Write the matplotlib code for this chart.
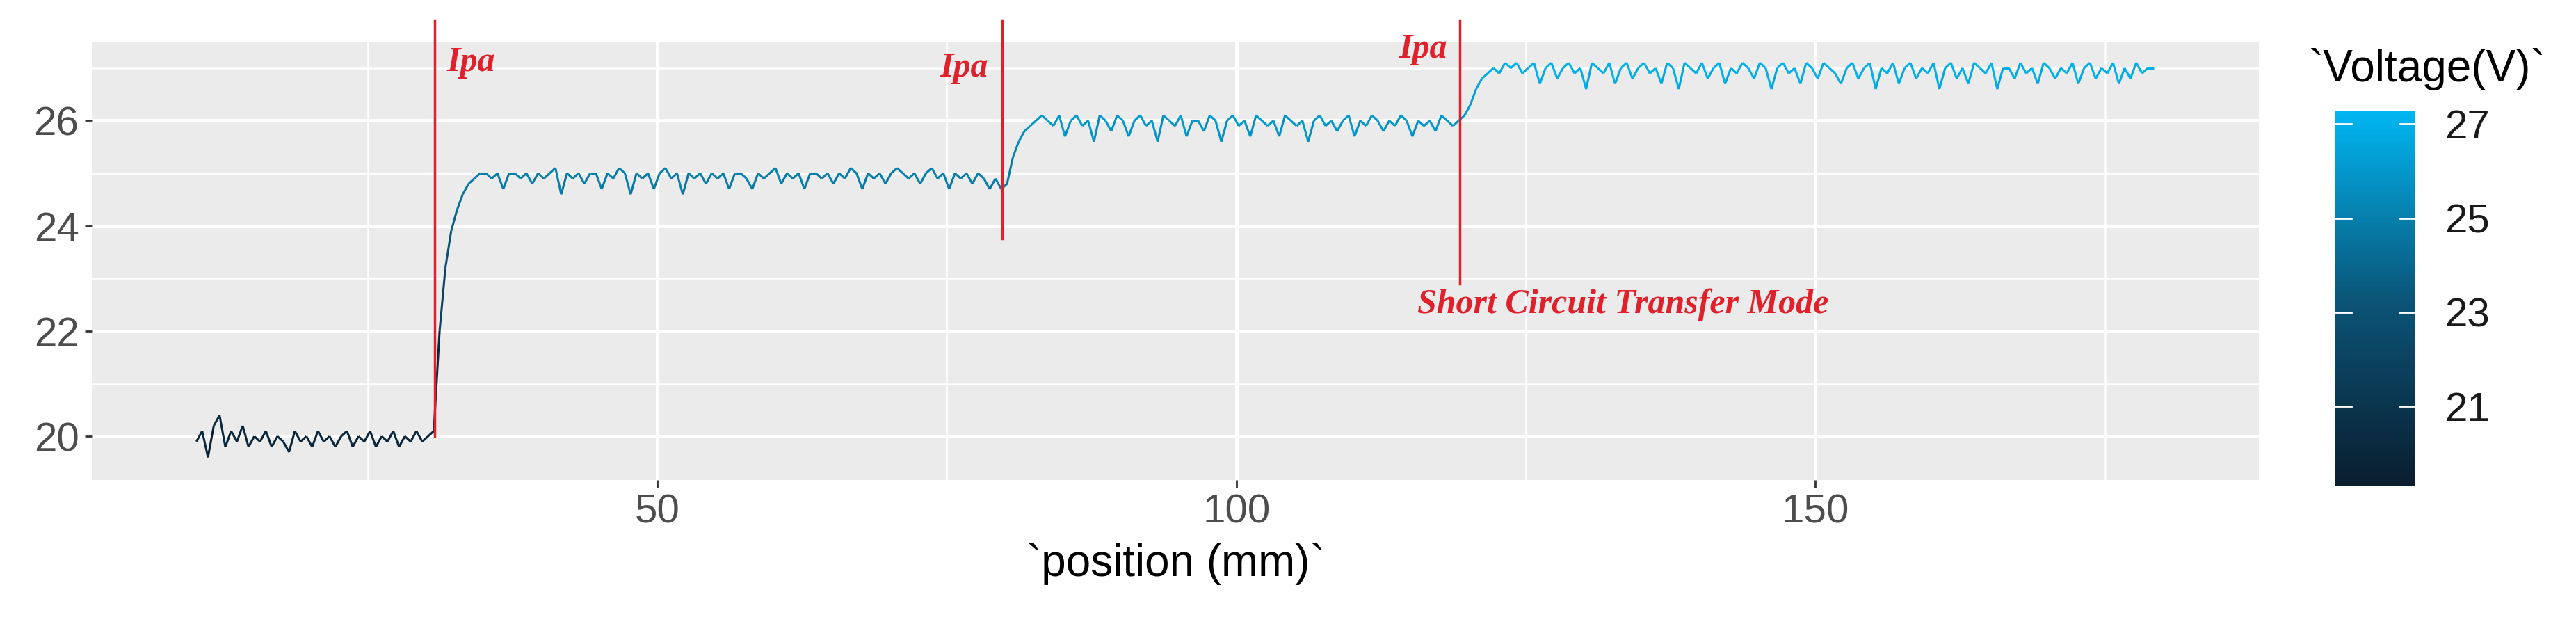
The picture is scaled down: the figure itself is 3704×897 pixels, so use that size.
import numpy as np
import matplotlib
matplotlib.use("Agg")
import matplotlib.pyplot as plt
from matplotlib.collections import LineCollection
from matplotlib.colors import LinearSegmentedColormap, Normalize
from matplotlib.ticker import MultipleLocator

plt.rcParams['font.family'] = ['Liberation Sans', 'DejaVu Sans']

seg_a = [19.9,20.1,19.6,20.2,20.4,19.8,20.1,19.9,20.2,19.8,20.0,19.9,20.1,19.8,20.0,19.9,19.7,20.1,19.9,20.0,
         19.8,20.1,19.9,20.0,19.8,20.0,20.1,19.8,20.0,19.9,20.1,19.8,20.0,19.9,20.1,19.8,20.0,19.9,20.1,19.9,20.0]
rise_1 = [20.1,22.0,23.2,23.9,24.3,24.6,24.8,24.9,25.0]
plat_1 = [25.0,24.9,25.0,24.7,25.0,25.0,24.9,25.0,24.8,25.0,
          24.9,25.0,25.1,24.6,25.0,24.9,25.0,24.8,25.0,25.0,
          24.7,25.0,24.9,25.1,25.0,24.6,25.0,24.9,25.0,24.7,
          25.0,25.1,24.9,25.0,24.6,25.0,24.9,25.0,24.8,25.0,
          24.9,25.0,24.7,25.0,25.0,24.9,24.7,25.0,24.9,25.0,
          25.1,24.8,25.0,24.9,25.0,24.7,25.0,25.0,24.9,25.0,
          24.8,25.0,24.9,25.1,25.0,24.7,25.0,24.9,25.0,24.8,
          25.0,25.1,25.0,24.9,25.0,24.8,25.0,25.1,24.9,25.0,
          24.7,25.0,24.9,25.0,24.8,25.0,24.9,24.7,24.9,24.7]
rise_2 = [24.8,25.3,25.6,25.8,25.9,26.0,26.1]
plat_2 = [26.0,25.9,26.1,25.7,26.0,26.1,25.9,26.0,25.6,26.1,
          26.0,25.8,26.1,26.0,25.7,26.0,26.1,25.9,26.0,25.6,
          26.1,26.0,25.9,26.1,25.7,26.0,26.0,25.8,26.1,26.0,
          25.6,26.0,26.1,25.9,26.0,25.7,26.1,26.0,25.9,26.0,
          25.7,26.1,26.0,25.9,26.0,25.6,26.0,26.1,25.9,26.0,
          25.8,26.0,26.1,25.7,26.0,25.9,26.1,26.0,25.8,26.0,
          25.9,26.1,26.0,25.7,26.0,25.9,26.0,25.8,26.1,26.0,
          25.9,26.0]
rise_3 = [26.1,26.3,26.6,26.8,26.9,27.0,26.9,27.1,27.0]
plat_3 = [27.1,26.9,27.0,27.1,26.7,27.0,27.1,26.8,27.0,27.1,
          26.9,27.0,26.6,27.1,27.0,26.9,27.1,26.7,27.0,27.1,
          26.8,27.0,27.1,26.9,27.0,26.7,27.1,27.0,26.6,27.1,
          27.0,26.9,27.1,26.8,27.0,27.1,26.7,27.0,26.9,27.1,
          27.0,26.8,27.1,27.0,26.6,27.0,27.1,26.9,27.0,26.7,
          27.1,27.0,26.8,27.1,27.0,26.9,26.7,27.0,27.1,26.8,
          27.0,27.1,26.6,27.0,26.9,27.1,26.7,27.0,27.1,26.8,
          27.0,26.9,27.1,26.6,27.0,27.1,26.8,27.0,26.7,27.1,
          27.0,26.9,27.1,26.6,27.0,27.0,26.8,27.1,26.9,27.0,
          26.7,27.1,27.0,26.8,27.0,26.9,27.1,26.7,27.0,27.1,
          26.8,27.0,26.9,27.1,26.7,27.0,26.8,27.1,26.9,27.0,27.0]
voltage = np.array(seg_a + rise_1 + plat_1 + rise_2 + plat_2 + rise_3 + plat_3)
position = np.linspace(10.2, 179.2, len(voltage))

vlines_x = [30.8, 79.8, 119.3]
vlines_ymin = [20.0, 23.76, 22.9]
labels = [("Ipa", 31.8, 27.1, "left"), ("Ipa", 78.6, 27.0, "right"), ("Ipa", 118.2, 27.35, "right"),
          ("Short Circuit Transfer Mode", 115.6, 22.5, "left")]

cmap = LinearSegmentedColormap.from_list("v", ["#0A1D2E", "#0B5578", "#00B6F1"])
norm = Normalize(vmin=19.3, vmax=27.27)

fig = plt.figure(figsize=(37.05, 8.97), dpi=100)
ax = fig.add_axes([0.0359, 0.2308, 0.8408, 0.7023])
ax.set_facecolor("#EBEBEB")
ax.set_xlim(1.23, 188.3)
ax.set_ylim(19.17, 27.5)
ax.xaxis.set_major_locator(MultipleLocator(50))
ax.xaxis.set_minor_locator(MultipleLocator(25))
ax.yaxis.set_major_locator(MultipleLocator(2))
ax.yaxis.set_minor_locator(MultipleLocator(1))
ax.grid(which="major", color="white", lw=3.5)
ax.grid(which="minor", color="white", lw=1.8)
ax.set_axisbelow(True)
for s in ax.spines.values():
    s.set_visible(False)
ax.tick_params(which="major", length=8, width=2, color="#333333", labelsize=42, labelcolor="#4D4D4D", pad=6)
ax.tick_params(which="minor", length=0)

pts = np.column_stack([position, voltage]).reshape(-1, 1, 2)
segs = np.concatenate([pts[:-1], pts[1:]], axis=1)
lc = LineCollection(segs, cmap=cmap, norm=norm, linewidths=2.2)
lc.set_array(voltage[:-1])
ax.add_collection(lc)

for x, y0 in zip(vlines_x, vlines_ymin):
    ax.plot([x, x], [y0, 27.9], color="#E0202B", lw=2.5, clip_on=False, zorder=5)
for t, x, y, ha in labels:
    ax.text(x, y, t, color="#E0202B", fontsize=36, fontstyle="italic", fontweight="bold",
            family="Liberation Serif", ha=ha, va="center")

ax.set_xlabel("`position (mm)`", fontsize=46, labelpad=12)

cax = fig.add_axes([3358/3705, 1-699/897, 115/3705, 539/897])
cb = fig.colorbar(plt.cm.ScalarMappable(norm=norm, cmap=cmap), cax=cax, ticks=[21, 23, 25, 27])
cb.outline.set_visible(False)
cax.tick_params(length=0, labelsize=42, labelcolor="#1A1A1A", pad=30)
for v in [21, 23, 25, 27]:
    cax.plot([0, 0.2], [v, v], color="white", lw=2, transform=cax.get_yaxis_transform())
    cax.plot([0.8, 1.0], [v, v], color="white", lw=2, transform=cax.get_yaxis_transform())
fig.text(3320/3705, 1-100/897, "`Voltage(V)`", fontsize=46, ha="left", va="center")

fig.savefig("out.png", dpi=100)
